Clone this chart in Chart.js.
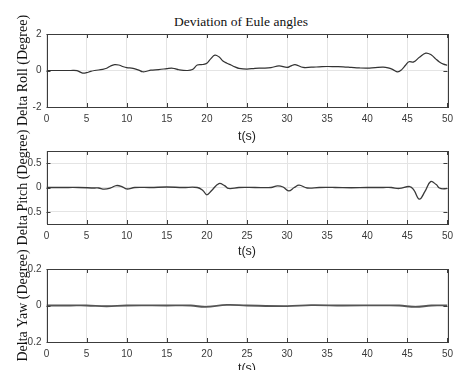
<!DOCTYPE html>
<html>
<head>
<meta charset="utf-8">
<script src="https://cdn.jsdelivr.net/npm/chart.js@4.4.0/dist/chart.umd.min.js"></script>
<style>
    body { margin: 0; background: #fff; overflow: hidden; }
    #wrap { position: relative; width: 459px; height: 370px; overflow: hidden; }
    #wrap canvas { position: absolute; left: 0; }
    #mainTitle {
        position: absolute; top: 14px; left: 141px; width: 200px;
        text-align: center; font: 13.5px "Liberation Serif", serif; color: #111;
    }
</style>
</head>
<body>
<div id="wrap">
    <div id="mainTitle">Deviation of Eule angles</div>
    <canvas id="rollChart" width="459" height="144" style="top:0px"></canvas>
    <canvas id="pitchChart" width="459" height="137" style="top:122px"></canvas>
    <canvas id="yawChart" width="459" height="138" style="top:238px"></canvas>
</div>
<script>
// ==================== DATA ====================
const timeTicks = [0, 5, 10, 15, 20, 25, 30, 35, 40, 45, 50];

const rollTime = [0, 1, 2, 3, 3.8, 4.5, 5, 5.5, 6, 7, 7.5, 8, 8.5, 9, 9.5, 10, 10.8, 11.5, 12, 12.5, 13, 14, 15, 15.6, 16, 16.5, 17.5, 18.2, 18.8, 19.5, 20, 20.5, 21, 21.5, 22, 22.5, 23, 23.5, 24, 25, 26, 27, 28, 29, 30, 30.5, 31, 32, 33, 34, 35, 36, 37, 38, 39, 40, 41, 42, 42.6, 43.2, 43.8, 44.3, 44.8, 45.2, 45.8, 46.5, 47.3, 48, 48.5, 49, 49.5, 50];
const rollDeg = [0, 0, 0, 0, -0.01, -0.14, -0.12, -0.05, 0, 0.06, 0.12, 0.25, 0.32, 0.3, 0.22, 0.16, 0.12, 0.02, -0.07, -0.04, 0.02, 0.05, 0.1, 0.13, 0.1, 0.04, 0.0, 0.05, 0.3, 0.33, 0.4, 0.65, 0.84, 0.75, 0.52, 0.4, 0.3, 0.2, 0.12, 0.08, 0.12, 0.13, 0.16, 0.25, 0.17, 0.25, 0.32, 0.17, 0.18, 0.2, 0.22, 0.21, 0.2, 0.17, 0.14, 0.13, 0.16, 0.18, 0.14, 0.05, -0.07, 0.05, 0.3, 0.48, 0.47, 0.72, 0.95, 0.85, 0.65, 0.47, 0.35, 0.29];

const pitchTime = [0, 2, 4, 6, 6.5, 7.2, 8, 8.7, 9.4, 10, 11, 13, 15, 17, 18.8, 19.5, 20, 20.6, 21.5, 22.2, 22.7, 24, 26, 28, 28.8, 29.5, 30.2, 30.9, 31.5, 32.5, 34, 36, 38, 40, 42, 43, 44, 45.3, 45.8, 46.5, 47.2, 47.9, 48.6, 49, 49.5, 50];
const pitchDeg = [0, 0, 0, -0.01, -0.01, -0.035, -0.01, 0.04, 0.02, -0.03, 0, 0, 0.01, 0, 0, -0.06, -0.15, -0.06, 0.08, 0.04, -0.02, 0, 0, 0, 0.035, 0.01, -0.07, 0.0, 0.05, -0.01, 0, 0, -0.005, 0, 0, 0, -0.02, 0.02, -0.05, -0.24, -0.08, 0.12, 0.06, -0.01, -0.03, -0.02];

const yawTime = [0, 3, 5, 7.5, 10, 15, 18, 19.8, 22.5, 25, 30, 33, 37, 42, 44, 46, 48, 50];
const yawDeg = [0, 0, 0, -0.004, 0, 0, 0, -0.008, 0.003, 0, -0.003, 0.002, 0, 0.001, 0, -0.008, 0, 0];

const rollTicks = [-2, 0, 2];
const pitchTicks = [-0.5, 0, 0.5];
const yawTicks = [-0.2, 0, 0.2];

// ==================== FRAME + INNER TICK MARKS (matlab style box) ====================
const boxPlugin = {
    id: 'boxPlugin',
    afterDatasetsDraw(chart){
        let ctx = chart.ctx;
        let a = chart.chartArea;
        let xs = chart.scales.x;
        let ys = chart.scales.y;
        ctx.save();
        ctx.strokeStyle = '#3c3c3c';
        ctx.lineWidth = 1;
        ctx.strokeRect(Math.round(a.left) + 0.5, Math.round(a.top) + 0.5, Math.round(a.right - a.left), Math.round(a.bottom - a.top));
        ctx.beginPath();
        xs.ticks.forEach(function(t){
            let px = Math.round(xs.getPixelForValue(t.value)) + 0.5;
            ctx.moveTo(px, a.top); ctx.lineTo(px, a.top + 4);
            ctx.moveTo(px, a.bottom); ctx.lineTo(px, a.bottom - 4);
        });
        ys.ticks.forEach(function(t){
            let py = Math.round(ys.getPixelForValue(t.value)) + 0.5;
            ctx.moveTo(a.left, py); ctx.lineTo(a.left + 4, py);
            ctx.moveTo(a.right, py); ctx.lineTo(a.right - 4, py);
        });
        ctx.stroke();
        ctx.restore();
    }
};

// ==================== PANEL BUILDER ====================
function makePanel(canvasId, times, values, yTicks, yMin, yMax, yLabel, opts){
    let points = [];
    for (let i = 0; i < times.length; i++) {
        points.push({x: times[i], y: values[i]});
    }
    return new Chart(document.getElementById(canvasId), {
        type: 'line',
        data: {
            datasets: [{
                data: points,
                borderColor: opts.color,
                borderWidth: opts.width,
                pointRadius: 0,
                tension: 0.4,
                fill: false
            }]
        },
        options: {
            responsive: false,
            animation: false,
            layout: { padding: { top: opts.padTop, right: 8, left: 0, bottom: 0 } },
            plugins: { legend: { display: false }, tooltip: { enabled: false } },
            scales: {
                x: {
                    type: 'linear',
                    min: 0,
                    max: 50,
                    afterBuildTicks: function(scale){ scale.ticks = timeTicks.map(v => ({value: v})); },
                    afterFit: function(scale){ scale.height = opts.xHeight; },
                    grid: { color: '#e4e4e4', drawTicks: false },
                    border: { display: false },
                    ticks: { color: '#3a3a3a', padding: 6, maxRotation: 0, font: { family: 'Liberation Sans', size: 10 } },
                    title: { display: true, text: 't(s)', color: '#222', padding: 0, font: { family: 'Liberation Sans', size: 12.5 } }
                },
                y: {
                    min: yMin,
                    max: yMax,
                    afterBuildTicks: function(scale){ scale.ticks = yTicks.map(v => ({value: v})); },
                    afterFit: function(scale){ scale.width = 46.5; },
                    grid: { color: '#e4e4e4', drawTicks: false },
                    border: { display: false },
                    ticks: {
                        color: '#3a3a3a', padding: 5, font: { family: 'Liberation Sans', size: 10 },
                        callback: opts.tickFmt
                    },
                    title: { display: true, text: yLabel, color: '#111', padding: { top: 15, bottom: 0 }, font: { family: 'Liberation Serif', size: 14 } }
                }
            }
        },
        plugins: [boxPlugin]
    });
}

// ==================== CHARTS ====================
let rollChart = makePanel('rollChart', rollTime, rollDeg, rollTicks, -2, 2, 'Delta Roll (Degree)', {
    color: '#333', width: 1.2, padTop: 34, xHeight: 37,
    tickFmt: function(v){ return String(v); }
});

let pitchChart = makePanel('pitchChart', pitchTime, pitchDeg, pitchTicks, -0.75, 0.75, 'Delta Pitch (Degree)', {
    color: '#3a3a3a', width: 1.3, padTop: 29, xHeight: 35,
    tickFmt: function(v){ return String(Math.abs(v)); }
});

let yawChart = makePanel('yawChart', yawTime, yawDeg, yawTicks, -0.2, 0.2, 'Delta Yaw (Degree)', {
    color: '#555', width: 1.8, padTop: 31, xHeight: 34,
    tickFmt: function(v){ return String(v); }
});
</script>
</body>
</html>
